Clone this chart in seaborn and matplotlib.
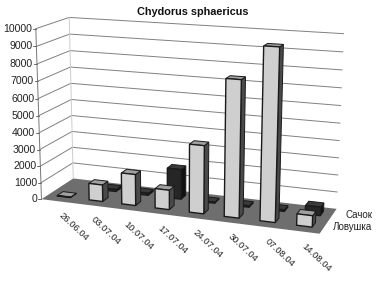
# chydorus_barras3d.py
import numpy as np
import pandas as pd
import matplotlib
matplotlib.use("Agg")
import matplotlib.pyplot as plt
import seaborn as sns
from matplotlib.patches import Polygon
from matplotlib.transforms import Affine2D, Transform

fechas = ['26.06.04', '03.07.04', '10.07.04', '17.07.04',
          '24.07.04', '30.07.04', '07.08.04', '14.08.04']
lovushka = [30, 1000, 1850, 1150, 3950, 7800, 9700, 650]
sachok = [0, 130, 130, 1800, 60, 90, 90, 500]
series = ['Сачок', 'Ловушка']
ticks_z = list(range(0, 11000, 1000))
titulo = 'Chydorus sphaericus'

# Calibracion de la perspectiva: (categoria, profundidad, valor) -> pixel
esquinas = [
    (-0.5, 0, 0, 43, 199), (7.5, 0, 0, 319, 233),
    (-0.5, 1, 0, 72, 178), (7.5, 1, 0, 338, 208),
    (-0.5, 0, 10000, 35, 28), (7.5, 0, 10000, 327, 47),
    (-0.5, 1, 10000, 70, 18), (7.5, 1, 10000, 343, 34),
    (1, 0.2, 0, 95.5, 201), (5, 0.2, 0, 232, 218),
    (6, 0.2, 0, 268, 223), (7, 0.2, 0, 303, 226),
]


def ajustar_homografia(puntos):
    filas = []
    for x, d, z, u, v in puntos:
        p = [x, d, z / 10000, 1]
        filas.append(p + [0, 0, 0, 0] + [-u * c for c in p])
        filas.append([0, 0, 0, 0] + p + [-v * c for c in p])
    return np.linalg.svd(np.array(filas))[2][-1].reshape(3, 4)


H = ajustar_homografia(esquinas)


def proyectar(x, d, z):
    x, d, z = np.broadcast_arrays(np.asarray(x, float), np.asarray(d, float), np.asarray(z, float))
    p = H @ np.array([x.ravel(), d.ravel(), z.ravel() / 10000, np.ones(x.size)])
    return np.column_stack([p[0] / p[2], p[1] / p[2]])


class Perspectiva(Transform):
    """Lleva (categoria, valor) de un plano de profundidad d a pixeles."""
    input_dims = 2
    output_dims = 2

    def __init__(self, d):
        super().__init__()
        self.d = d

    def transform_non_affine(self, values):
        values = np.asarray(values)
        return proyectar(values[:, 0], self.d, values[:, 1])


sns.set_theme(style="white", font="Liberation Sans")
fig = plt.figure(figsize=(3.83, 2.89), dpi=100)
ax = fig.add_axes([0, 0, 1, 1])
ax.set_axis_off()
pix = Affine2D().scale(1, -1).translate(0, 289)

# Suelo y rejilla
suelo = proyectar([-0.5, 7.5, 7.5, -0.5], [0, 0, 1, 1], 0)
ax.add_patch(Polygon(suelo, closed=True, transform=pix, facecolor='#6e6e6e', edgecolor='none', zorder=1, clip_on=False))
for z in ticks_z[1:]:
    linea = proyectar([-0.5, -0.5, 7.5], [0, 1, 1], z)
    ax.plot(linea[:, 0], linea[:, 1], transform=pix, color='#808080', lw=0.7, zorder=1, clip_on=False)
for d, col in [(0, '#777777'), (1, '#cccccc')]:
    linea = proyectar([-0.5, -0.5], d, [0, 10000])
    ax.plot(linea[:, 0], linea[:, 1], transform=pix, color=col, lw=0.7, zorder=1, clip_on=False)

# Marcas y etiquetas del eje de valores
for z in ticks_z:
    u, v = proyectar(-0.5, 0, z)[0]
    ax.plot([u - 3, u], [v, v], transform=pix, color='#666666', lw=0.7, clip_on=False)
    ax.text(u - 4, v, str(z), transform=pix, ha='right', va='center', fontsize=7.6, color='#222222')

# Barras: una pasada de seaborn por serie, de atras hacia delante
df = pd.DataFrame({'fecha': fechas, 'Сачок': sachok, 'Ловушка': lovushka})
filas = [('Сачок', 0.66, 0.84, '#262626', '#111111', '#3a3a3a', 2),
         ('Ловушка', 0.2, 0.38, '#cfcfcf', '#4a4a4a', '#a0a0a0', 3)]
for nombre, d0, d1, cara, lado, tapa, orden in filas:
    previos = len(ax.patches)
    sns.barplot(data=df, x='fecha', y=nombre, color=cara, saturation=1, width=0.42,
                edgecolor='#1a1a1a', linewidth=1.0, ax=ax)
    for barra in ax.patches[previos:]:
        x0, x1, h = barra.get_x(), barra.get_x() + barra.get_width(), barra.get_height()
        if h <= 0:
            barra.set_visible(False)
            continue
        barra.set_transform(Perspectiva(d0) + pix)
        barra.set_zorder(orden + 0.2)
        barra.set_clip_on(False)
        cara_lado = proyectar([x1, x1, x1, x1], [d0, d1, d1, d0], [0, 0, h, h])
        cara_tapa = proyectar([x0, x1, x1, x0], [d0, d0, d1, d1], h)
        for puntos, color in [(cara_lado, lado), (cara_tapa, tapa)]:
            ax.add_patch(Polygon(puntos, closed=True, transform=pix, facecolor=color,
                                 edgecolor='#1a1a1a', linewidth=0.7, zorder=orden + 0.1, clip_on=False))

ax.set_xlabel('')
ax.set_ylabel('')

# Etiquetas de fechas y de series
for i, fecha in enumerate(fechas):
    u, v = proyectar(i, 0, 0)[0]
    ax.text(u + 16, v + 26, fecha, transform=pix, rotation=-43, ha='center', va='center',
            rotation_mode='anchor', fontsize=6.8, color='#222222')
for nombre, d, du in [('Сачок', 0.72, 6), ('Ловушка', 0.25, 7)]:
    u, v = proyectar(7.5, d, 0)[0]
    ax.text(372, v, nombre, transform=pix, ha='right', va='center', fontsize=7, color='#222222')

ax.text(193, 12, titulo, transform=pix, ha='center', va='center', fontsize=7.8,
        fontweight='bold', color='#111111')

fig.savefig('out.png', dpi=100)
